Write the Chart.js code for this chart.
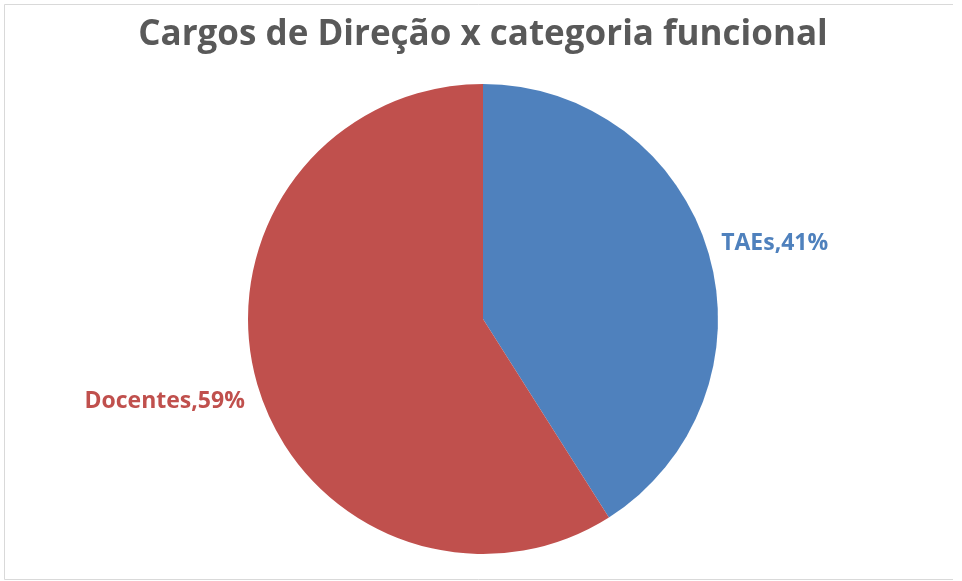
<!DOCTYPE html>
<html>
<head>
<meta charset="utf-8">
<script src="https://cdn.jsdelivr.net/npm/chart.js@4"></script>
<style>
  html, body { margin: 0; padding: 0; background: #ffffff; }
  #wrap { width: 962px; height: 581px; }
</style>
</head>
<body>
<div id="wrap"><canvas id="pie"></canvas></div>
<script>
// data
var categories = ['TAEs', 'Docentes'];
var percentages = [41, 59];
var sliceColors = ['#4F81BD', '#C0504D'];

// draws the "Name,NN%" labels just outside each slice
var outsideLabels = {
    id: 'outsideLabels',
    afterDatasetsDraw: function(chart) {
        var ctx = chart.ctx;
        var meta = chart.getDatasetMeta(0);
        ctx.save();
        ctx.font = 'bold 23px "Open Sans"';
        ctx.textBaseline = 'middle';
        meta.data.forEach(function(arc, i) {
            var mid = (arc.startAngle + arc.endAngle) / 2;
            var x = arc.x + Math.cos(mid) * (arc.outerRadius + 13);
            var y = arc.y + Math.sin(mid) * (arc.outerRadius + 48) + 3;
            ctx.fillStyle = sliceColors[i];
            ctx.textAlign = Math.cos(mid) >= 0 ? 'left' : 'right';
            ctx.fillText(categories[i] + ',' + percentages[i] + '%', x, y);
        });
        ctx.restore();
    }
};

// thin grey frame round the chart (no right side visible in the original)
var frame = {
    id: 'frame',
    beforeDraw: function(chart) {
        var ctx = chart.ctx;
        ctx.save();
        ctx.strokeStyle = '#d9d9d9';
        ctx.lineWidth = 1;
        ctx.beginPath();
        ctx.moveTo(953, 4.5);
        ctx.lineTo(4.5, 4.5);
        ctx.lineTo(4.5, 579.5);
        ctx.lineTo(953, 579.5);
        ctx.stroke();
        ctx.restore();
    }
};

var pieChart = new Chart(document.getElementById('pie'), {
    type: 'pie',
    data: {
        labels: categories,
        datasets: [{
            data: percentages,
            backgroundColor: sliceColors,
            borderWidth: 0
        }]
    },
    options: {
        responsive: true,
        maintainAspectRatio: false,
        animation: false,
        layout: { padding: { top: 0, bottom: 27, left: 4, right: 0 } },
        plugins: {
            legend: { display: false },
            tooltip: { enabled: false },
            title: {
                display: true,
                text: 'Cargos de Direção x categoria funcional',
                color: '#595959',
                font: { family: '"Open Sans"', size: 35, weight: 'bold', lineHeight: 1.2 },
                padding: { top: 14, bottom: 28 }
            }
        }
    },
    plugins: [outsideLabels, frame]
});
</script>
</body>
</html>
